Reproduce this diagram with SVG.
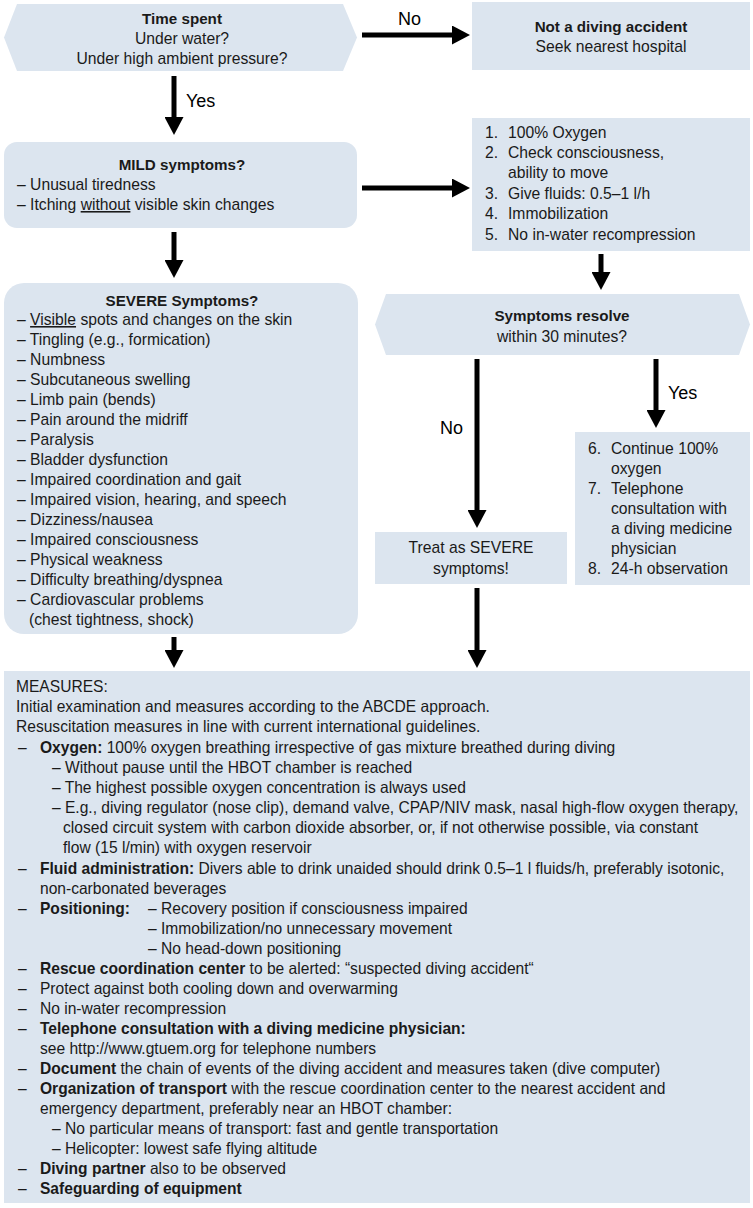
<svg xmlns="http://www.w3.org/2000/svg" width="753" height="1208" viewBox="0 0 753 1208">
<style>
.box{fill:#dce5ef;stroke:none}
text{font-family:"Liberation Sans",Arial,sans-serif;fill:#1a1a1a}
.t{font-size:15.7px}
.h{font-size:15.2px;font-weight:bold}
.b{font-weight:bold}
.c{text-anchor:middle}
.lbl{font-size:18px;fill:#000}
.m{font-size:16.5px}
.conn{stroke:#000;stroke-width:5;fill:none}
.u{text-decoration:underline}
</style>
<defs>
<marker id="ah" markerUnits="userSpaceOnUse" markerWidth="18" markerHeight="19" refX="3" refY="9.5" orient="auto">
<path d="M0,0 L18,9.5 L0,19 z" fill="#000"/>
</marker>
</defs>
<rect width="753" height="1208" fill="#fff"/>

<g id="connectors">
<line class="conn" x1="362" y1="35" x2="455" y2="35" marker-end="url(#ah)"/>
<line class="conn" x1="174" y1="76" x2="174" y2="120" marker-end="url(#ah)"/>
<line class="conn" x1="362" y1="188" x2="455" y2="188" marker-end="url(#ah)"/>
<line class="conn" x1="174" y1="232" x2="174" y2="263" marker-end="url(#ah)"/>
<line class="conn" x1="601" y1="254" x2="601" y2="275" marker-end="url(#ah)"/>
<line class="conn" x1="477" y1="359" x2="477" y2="513" marker-end="url(#ah)"/>
<line class="conn" x1="656" y1="359" x2="656" y2="413" marker-end="url(#ah)"/>
<line class="conn" x1="174" y1="637" x2="174" y2="653" marker-end="url(#ah)"/>
<line class="conn" x1="477" y1="588" x2="477" y2="653" marker-end="url(#ah)"/>
<text class="lbl" x="398" y="25">No</text>
<text class="lbl" x="186" y="107">Yes</text>
<text class="lbl" x="440" y="434">No</text>
<text class="lbl" x="668" y="399">Yes</text>
</g>

<g id="time-spent">
<polygon class="box" points="4,37.5 17,4 343,4 357,37.5 343,71 17,71"/>
<text class="h c" x="182" y="24">Time spent</text>
<text class="t c" x="182" y="44">Under water?</text>
<text class="t c" x="182" y="64">Under high ambient pressure?</text>
</g>

<g id="not-diving">
<rect class="box" x="472" y="2" width="278" height="68"/>
<text class="h c" x="611" y="32">Not a diving accident</text>
<text class="t c" x="611" y="52">Seek nearest hospital</text>
</g>

<g id="mild">
<rect class="box" x="4" y="142" width="353" height="86" rx="13"/>
<text class="h c" x="182" y="170">MILD symptoms?</text>
<text class="t" x="17" y="190">– Unusual tiredness</text>
<text class="t" x="17" y="210">– Itching <tspan class="u">without</tspan> visible skin changes</text>
</g>

<g id="mild-actions">
<rect class="box" x="472" y="118" width="278" height="133"/>
<text class="t" x="485" y="138">1.</text><text class="t" x="508" y="138">100% Oxygen</text>
<text class="t" x="485" y="158">2.</text><text class="t" x="508" y="158">Check consciousness,</text>
<text class="t" x="508" y="178">ability to move</text>
<text class="t" x="485" y="199">3.</text><text class="t" x="508" y="199">Give fluids: 0.5–1 l/h</text>
<text class="t" x="485" y="219">4.</text><text class="t" x="508" y="219">Immobilization</text>
<text class="t" x="485" y="240">5.</text><text class="t" x="508" y="240">No in-water recompression</text>
</g>

<g id="severe">
<rect class="box" x="4" y="283" width="354" height="351" rx="20"/>
<text class="h c" x="182" y="306">SEVERE Symptoms?</text>
<text class="t" x="17" y="325">– <tspan class="u">Visible</tspan> spots and changes on the skin</text>
<text class="t" x="17" y="345">– Tingling (e.g., formication)</text>
<text class="t" x="17" y="365">– Numbness</text>
<text class="t" x="17" y="385">– Subcutaneous swelling</text>
<text class="t" x="17" y="405">– Limb pain (bends)</text>
<text class="t" x="17" y="425">– Pain around the midriff</text>
<text class="t" x="17" y="445">– Paralysis</text>
<text class="t" x="17" y="465">– Bladder dysfunction</text>
<text class="t" x="17" y="485">– Impaired coordination and gait</text>
<text class="t" x="17" y="505">– Impaired vision, hearing, and speech</text>
<text class="t" x="17" y="525">– Dizziness/nausea</text>
<text class="t" x="17" y="545">– Impaired consciousness</text>
<text class="t" x="17" y="565">– Physical weakness</text>
<text class="t" x="17" y="585">– Difficulty breathing/dyspnea</text>
<text class="t" x="17" y="605">– Cardiovascular problems</text>
<text class="t" x="29" y="625">(chest tightness, shock)</text>
</g>

<g id="resolve">
<polygon class="box" points="375,324.5 386,294 739,294 750,324.5 739,355 386,355"/>
<text class="h c" x="562" y="321">Symptoms resolve</text>
<text class="t c" x="562" y="342">within 30 minutes?</text>
</g>

<g id="treat-severe">
<rect class="box" x="375" y="532" width="192" height="52"/>
<text class="t c" x="471" y="553">Treat as SEVERE</text>
<text class="t c" x="471" y="574">symptoms!</text>
</g>

<g id="resolved-actions">
<rect class="box" x="575" y="432" width="175" height="153"/>
<text class="t" x="588" y="454">6.</text><text class="t" x="611" y="454">Continue 100%</text>
<text class="t" x="611" y="474">oxygen</text>
<text class="t" x="588" y="494">7.</text><text class="t" x="611" y="494">Telephone</text>
<text class="t" x="611" y="514">consultation with</text>
<text class="t" x="611" y="534">a diving medicine</text>
<text class="t" x="611" y="554">physician</text>
<text class="t" x="588" y="574">8.</text><text class="t" x="611" y="574">24-h observation</text>
</g>

<g id="measures">
<rect class="box" x="4" y="671" width="746" height="532"/>
<g transform="scale(0.945 1)">
<text class="m" x="16.9" y="692">MEASURES:</text>
<text class="m" x="16.9" y="712">Initial examination and measures according to the ABCDE approach.</text>
<text class="m" x="16.9" y="732">Resuscitation measures in line with current international guidelines.</text>
<text class="m" x="19" y="753">–</text><text class="m" x="42.3" y="753"><tspan class="b">Oxygen:</tspan> 100% oxygen breathing irrespective of gas mixture breathed during diving</text>
<text class="m" x="55" y="773">– Without pause until the HBOT chamber is reached</text>
<text class="m" x="55" y="793">– The highest possible oxygen concentration is always used</text>
<text class="m" x="55" y="813">– E.g., diving regulator (nose clip), demand valve, CPAP/NIV mask, nasal high-flow oxygen therapy,</text>
<text class="m" x="66.7" y="833">closed circuit system with carbon dioxide absorber, or, if not otherwise possible, via constant</text>
<text class="m" x="66.7" y="853">flow (15 l/min) with oxygen reservoir</text>
<text class="m" x="19" y="874">–</text><text class="m" x="42.3" y="874"><tspan class="b">Fluid administration:</tspan> Divers able to drink unaided should drink 0.5–1 l fluids/h, preferably isotonic,</text>
<text class="m" x="42.3" y="894">non-carbonated beverages</text>
<text class="m" x="19" y="914">–</text><text class="m b" x="42.3" y="914">Positioning:</text><text class="m" x="156.6" y="914">– Recovery position if consciousness impaired</text>
<text class="m" x="156.6" y="934">– Immobilization/no unnecessary movement</text>
<text class="m" x="156.6" y="954">– No head-down positioning</text>
<text class="m" x="19" y="974">–</text><text class="m" x="42.3" y="974"><tspan class="b">Rescue coordination center</tspan> to be alerted: “suspected diving accident“</text>
<text class="m" x="19" y="994">–</text><text class="m" x="42.3" y="994">Protect against both cooling down and overwarming</text>
<text class="m" x="19" y="1014">–</text><text class="m" x="42.3" y="1014">No in-water recompression</text>
<text class="m" x="19" y="1034">–</text><text class="m b" x="42.3" y="1034">Telephone consultation with a diving medicine physician:</text>
<text class="m" x="42.3" y="1054">see http://www.gtuem.org for telephone numbers</text>
<text class="m" x="19" y="1074">–</text><text class="m" x="42.3" y="1074"><tspan class="b">Document</tspan> the chain of events of the diving accident and measures taken (dive computer)</text>
<text class="m" x="19" y="1094">–</text><text class="m" x="42.3" y="1094"><tspan class="b">Organization of transport</tspan> with the rescue coordination center to the nearest accident and</text>
<text class="m" x="42.3" y="1114">emergency department, preferably near an HBOT chamber:</text>
<text class="m" x="55" y="1134">– No particular means of transport: fast and gentle transportation</text>
<text class="m" x="55" y="1154">– Helicopter: lowest safe flying altitude</text>
<text class="m" x="19" y="1174">–</text><text class="m" x="42.3" y="1174"><tspan class="b">Diving partner</tspan> also to be observed</text>
<text class="m" x="19" y="1194">–</text><text class="m b" x="42.3" y="1194">Safeguarding of equipment</text>
</g>
</g>
</svg>
